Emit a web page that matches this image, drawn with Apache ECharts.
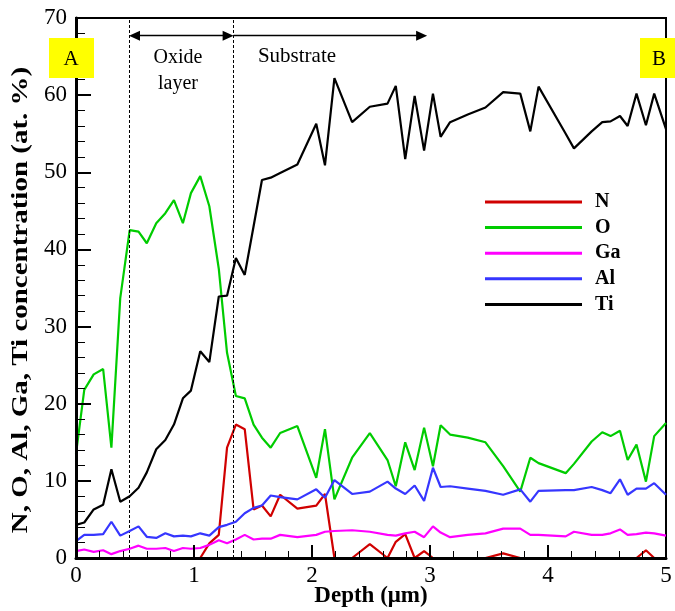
<!DOCTYPE html>
<html>
<head>
<meta charset="utf-8">
<script src="https://cdn.jsdelivr.net/npm/echarts@6/dist/echarts.min.js"></script>
<style>
  html, body { margin: 0; padding: 0; background: #fff; }
  #chart { width: 675px; height: 611px; }
</style>
</head>
<body>
<div id="chart"></div>
<script>
// Depth profile sampling positions (µm)
const depth = [0, 0.07, 0.15, 0.23, 0.30, 0.375, 0.455, 0.53, 0.60, 0.68, 0.757, 0.83, 0.906, 0.974,
  1.053, 1.13, 1.21, 1.28, 1.355, 1.43, 1.505, 1.576, 1.65, 1.73, 1.876, 2.036, 2.11, 2.19,
  2.34, 2.49, 2.64, 2.71, 2.79, 2.87, 2.95, 3.025, 3.09, 3.17, 3.32, 3.47, 3.62, 3.765, 3.85,
  3.92, 4.15, 4.22, 4.37, 4.46, 4.53, 4.61, 4.675, 4.75, 4.83, 4.90, 5.0];

// Concentrations (at. %)
const nitrogen = [0, 0, 0, 0, 0, 0, 0, 0, 0, 0, 0, 0, 0, 0,
  0, 1.9, 3.0, 14.3, 17.3, 16.7, 6.3, 6.8, 5.4, 8.2, 6.4, 6.8, 8.3, 0,
  0, 1.8, 0, 2.1, 3.1, 0, 0.9, 0, 0, 0, 0, 0, 0.6, 0, 0,
  0, 0, 0, 0, 0, 0, 0, 0, 0, 1.0, 0, 0];
const oxygen = [13.5, 21.8, 23.8, 24.5, 14.3, 33.7, 42.5, 42.3, 40.8, 43.4, 44.7, 46.4, 43.4, 47.3,
  49.5, 45.6, 37.5, 26.6, 21.0, 20.7, 17.3, 15.6, 14.3, 16.2, 17.1, 10.4, 16.7, 7.6,
  13.0, 16.2, 12.7, 9.3, 15.0, 11.4, 16.9, 11.9, 17.2, 16.0, 15.6, 15.0, 11.9, 8.6, 13.0,
  12.3, 11.0, 12.2, 15.1, 16.3, 15.8, 16.5, 12.7, 14.7, 9.9, 15.8, 17.5];
const gallium = [0.9, 1.1, 0.8, 1.0, 0.5, 0.9, 1.2, 1.6, 1.2, 1.2, 1.3, 0.9, 1.3, 1.2,
  1.3, 1.7, 2.3, 1.9, 2.4, 3.0, 2.4, 2.5, 2.5, 3.0, 2.7, 3.0, 3.4, 3.5,
  3.6, 3.4, 3.0, 2.9, 3.2, 3.4, 2.7, 4.1, 3.3, 2.7, 3.0, 3.2, 3.8, 3.8, 3.0,
  3.0, 2.8, 3.4, 3.0, 3.0, 3.2, 3.7, 3.0, 3.1, 3.3, 3.2, 2.9];
const aluminium = [2.2, 3.0, 3.0, 3.1, 4.7, 2.9, 3.5, 4.1, 2.75, 2.6, 3.2, 2.8, 2.9, 2.8,
  3.2, 2.9, 4.0, 4.3, 4.7, 5.8, 6.5, 6.8, 8.1, 7.9, 7.6, 8.9, 7.8, 10.1,
  8.3, 8.6, 9.9, 9.0, 8.3, 9.4, 7.4, 11.7, 9.2, 9.3, 9.0, 8.7, 8.2, 8.9, 7.3,
  8.7, 8.8, 8.8, 9.2, 8.8, 8.4, 10.2, 8.2, 9.0, 9.0, 9.7, 8.2];
const titanium = [4.3, 4.6, 6.3, 6.9, 11.5, 7.3, 8.0, 9.1, 11.1, 14.1, 15.3, 17.3, 20.7, 21.7,
  26.8, 25.4, 33.9, 34.0, 38.9, 36.7, 43.0, 49.0, 49.3, 49.9, 51.0, 56.3, 50.9, 62.2,
  56.5, 58.5, 58.9, 61.2, 51.7, 59.9, 52.8, 60.2, 54.6, 56.5, 57.5, 58.4, 60.4, 60.2, 55.3,
  61.1, 55.0, 53.1, 55.3, 56.5, 56.6, 57.3, 56.0, 60.2, 56.1, 60.2, 55.6];

const elementNames = ['N', 'O', 'Ga', 'Al', 'Ti'];
const elementColors = ['#d00000', '#00cc00', '#ff00ff', '#3636ff', '#000000'];
const elementValues = [nitrogen, oxygen, gallium, aluminium, titanium];

// Region boundaries (µm) and arrow extents
const oxideStart = 0.45;
const oxideEnd = 1.335;
const substrateArrowEnd = 2.975;
const arrowLevel = 67.7;
// Arrow symbols are centred on their end point; pull the ends in by half an arrowhead
const arrowInset = 0.046;

const xTicks = [0, 1, 2, 3, 4, 5];
const yTicks = [0, 10, 20, 30, 40, 50, 60, 70];

const serif = '"Liberation Serif", "Times New Roman", serif';

const chart = echarts.init(document.getElementById('chart'), null, { renderer: 'canvas' });

const series = elementNames.map((name, k) => ({
  name: name,
  type: 'line',
  data: depth.map((d, i) => [d, elementValues[k][i]]),
  symbol: 'none',
  lineStyle: { color: elementColors[k], width: 2.2 },
  itemStyle: { color: elementColors[k] },
  clip: true,
  z: 2 + k
}));

// Region markers: dashed boundaries and arrows
const dashed = { type: [3, 2], width: 1, color: '#000' };
const arrowLine = { type: 'solid', width: 1.4, color: '#000' };
series[0].markLine = {
  silent: true,
  animation: false,
  label: { show: false },
  emphasis: { disabled: true },
  data: [
    [{ coord: [oxideStart, 0], symbol: 'none', lineStyle: dashed },
     { coord: [oxideStart, 70], symbol: 'none' }],
    [{ coord: [oxideEnd, 0], symbol: 'none', lineStyle: dashed },
     { coord: [oxideEnd, 70], symbol: 'none' }],
    [{ coord: [oxideStart + arrowInset, arrowLevel], symbol: 'triangle', symbolSize: [10, 11], lineStyle: arrowLine },
     { coord: [oxideEnd - arrowInset, arrowLevel], symbol: 'triangle', symbolSize: [10, 11] }],
    [{ coord: [oxideEnd, arrowLevel], symbol: 'none', lineStyle: arrowLine },
     { coord: [substrateArrowEnd - arrowInset, arrowLevel], symbol: 'triangle', symbolSize: [10, 11] }]
  ]
};

const option = {
  animation: false,
  backgroundColor: '#fff',
  grid: {
    left: 76, top: 18, right: 9, bottom: 53,
    outerBoundsMode: 'none',
    containLabel: false,
    show: true, borderColor: '#000', borderWidth: 2, backgroundColor: 'transparent'
  },
  legend: {
    data: elementNames,
    orient: 'vertical',
    left: 485, top: 192,
    padding: 0,
    icon: 'rect',
    itemWidth: 97, itemHeight: 3,
    itemGap: 5.6,
    selectedMode: false,
    textStyle: { fontFamily: serif, fontWeight: 'bold', fontSize: 20, color: '#000', lineHeight: 20, padding: [0, 0, 0, 8] }
  },
  xAxis: {
    type: 'value',
    min: xTicks[0], max: xTicks[xTicks.length - 1], interval: 1,
    z: 10,
    name: 'Depth (\u03bcm)',
    nameLocation: 'middle',
    nameGap: 27,
    nameMoveOverlap: false,
    nameTextStyle: { fontFamily: serif, fontWeight: 'bold', fontSize: 23, color: '#000', verticalAlign: 'top' },
    axisLine: { show: true, onZero: false, lineStyle: { color: '#000', width: 3 } },
    axisTick: { show: true, inside: true, length: 13, lineStyle: { color: '#000', width: 2 } },
    minorTick: { show: true, splitNumber: 5, length: 7, lineStyle: { color: '#000', width: 1 } },
    axisLabel: { fontFamily: serif, fontSize: 23, color: '#000', margin: 6 },
    splitLine: { show: false }
  },
  yAxis: {
    type: 'value',
    min: yTicks[0], max: yTicks[yTicks.length - 1], interval: 10,
    z: 10,
    axisLine: { show: true, onZero: false, lineStyle: { color: '#000', width: 3 } },
    axisTick: { show: true, inside: true, length: 15, lineStyle: { color: '#000', width: 2 } },
    minorTick: { show: true, splitNumber: 5, length: 9, lineStyle: { color: '#000', width: 1 } },
    axisLabel: { fontFamily: serif, fontSize: 23, color: '#000', margin: 9 },
    splitLine: { show: false }
  },
  graphic: [
    { type: 'text', x: 21, y: 300, rotation: Math.PI / 2, scaleX: 1.26,
      style: { text: 'N, O, Al, Ga, Ti concentration (at. %)', font: 'bold 23px ' + serif, fill: '#000', textAlign: 'center', textVerticalAlign: 'middle' }, z: 21 },
    { type: 'rect', left: 49, top: 38, shape: { width: 45, height: 40 }, style: { fill: '#ffff00' }, z: 20 },
    { type: 'text', x: 71, y: 59, style: { text: 'A', font: '21px ' + serif, fill: '#000', textAlign: 'center', textVerticalAlign: 'middle' }, z: 21 },
    { type: 'rect', left: 640, top: 38, shape: { width: 45, height: 40 }, style: { fill: '#ffff00' }, z: 20 },
    { type: 'text', x: 659, y: 59, style: { text: 'B', font: '21px ' + serif, fill: '#000', textAlign: 'center', textVerticalAlign: 'middle' }, z: 21 },
    { type: 'text', x: 178, y: 58, style: { text: 'Oxide', font: '20px ' + serif, fill: '#000', textAlign: 'center', textVerticalAlign: 'middle' }, z: 21 },
    { type: 'text', x: 178, y: 84, style: { text: 'layer', font: '20px ' + serif, fill: '#000', textAlign: 'center', textVerticalAlign: 'middle' }, z: 21 },
    { type: 'text', x: 297, y: 56, style: { text: 'Substrate', font: '21px ' + serif, fill: '#000', textAlign: 'center', textVerticalAlign: 'middle' }, z: 21 }
  ],
  series: series
};

chart.setOption(option);
</script>
</body>
</html>
